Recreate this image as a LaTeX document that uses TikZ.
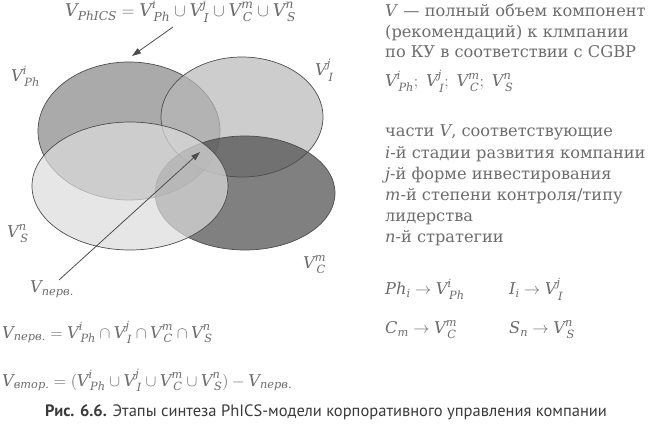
\RequirePackage{fix-cm}
\documentclass[tikz,border=0pt]{standalone}
\usepackage{amsmath}
\usepackage{fontspec}
\setmainfont{DejaVu Serif}
\newfontfamily\capfont{PT Sans}
\usetikzlibrary{arrows.meta}
\definecolor{txt}{HTML}{6c6c6c}
\definecolor{capc}{HTML}{3a3a3a}
\definecolor{edge}{HTML}{4d4d4d}
\definecolor{cPh}{HTML}{868686}
\definecolor{cI}{HTML}{b8b8b8}
\definecolor{cC}{HTML}{4a4a4a}
\definecolor{cS}{HTML}{dcdcdc}
\newcommand{\mi}[1]{\text{\itshape #1}}
\newcommand{\VV}[2]{\mi{V}^{\mi{#1}}_{\kern1.6pt\mi{#2}}}
\tikzset{
  lbl/.style={text=txt, inner sep=0pt, font=\fontsize{16.2}{21}\selectfont},
  big/.style={text=txt, inner sep=0pt, font=\fontsize{17.5}{21}\selectfont},
  caption/.style={text=capc, inner sep=0pt, font=\capfont\fontsize{16.5}{19}\selectfont},
  set/.style={draw=edge, line width=0.7pt, fill opacity=0.7},
  pointer/.style={draw=edge, line width=0.8pt, -{Triangle[length=9pt,width=6pt]}}
}
\begin{document}
\begin{tikzpicture}[x=1pt,y=-1pt]
\useasboundingbox (0,0) rectangle (650,427);
% sets
\path[set, fill=cPh] (129,131) ellipse [x radius=91pt, y radius=69pt];
\path[set, fill=cI] (242,117) ellipse [x radius=81pt, y radius=60pt];
\path[set, fill=cC] (245,193) ellipse [x radius=90pt, y radius=57pt];
\path[set, fill=cS] (130,186) ellipse [x radius=98pt, y radius=64pt];
% labels
\node[big, anchor=base west] (top) at (65,17) {$\mi{V}_{\mi{PhICS}} = \VV{i}{Ph}\cup\VV{j}{I}\cup\VV{m}{C}\cup\VV{n}{S}$};
\node[lbl, anchor=base west] (lPh) at (11,82) {$\VV{i}{Ph}$};
\node[lbl, anchor=base west] (lI) at (315,76) {$\VV{j}{I}$};
\node[lbl, anchor=base west] (lS) at (7,238) {$\VV{n}{S}$};
\node[lbl, anchor=base west] (lC) at (303,269) {$\VV{m}{C}$};
\node[lbl, anchor=base west] (lP) at (30,293) {$\mi{V}_{\mi{перв.}}$};
\coordinate (tipA) at (132,56);
\coordinate (startA) at (173,27);
\coordinate (startB) at (59,280);
\coordinate (tipB) at (200,152);
\draw[pointer] (startA) -- (tipA);
\draw[pointer] (startB) -- (tipB);
% bottom formulas
\node[lbl, anchor=base west] (f1) at (2,338) {$\mi{V}_{\mi{перв.}} = \VV{i}{Ph}\cap\VV{j}{I}\cap\VV{m}{C}\cap\VV{n}{S}$};
\node[lbl, anchor=base west] (f2) at (2,386) {$\mi{V}_{\mi{втор.}} = (\VV{i}{Ph}\cup\VV{j}{I}\cup\VV{m}{C}\cup\VV{n}{S}) - \mi{V}_{\mi{перв.}}$};
% right column
\node[lbl, anchor=base west] (r1) at (385,16.5) {\textit{V} — полный объем компонент};
\node[lbl, anchor=base west] (r2) at (385,37.2) {(рекомендаций) к клмпании};
\node[lbl, anchor=base west] (r3) at (385,57.9) {по КУ в соответствии с CGBP};
\node[lbl, anchor=base west] (r4) at (385,87) {$\VV{i}{Ph};\ \VV{j}{I};\ \VV{m}{C};\ \VV{n}{S}$};
\node[lbl, anchor=base west] (r5) at (385,137) {части \textit{V}, соответствующие};
\node[lbl, anchor=base west] (r6) at (385,158.1) {\textit{i}-й стадии развития компании};
\node[lbl, anchor=base west] (r7) at (385,179.2) {\textit{j}-й форме инвестирования};
\node[lbl, anchor=base west] (r8) at (385,200.3) {\textit{m}-й степени контроля/типу};
\node[lbl, anchor=base west] (r9) at (385,221.4) {лидерства};
\node[lbl, anchor=base west] (r10) at (385,242.5) {\textit{n}-й стратегии};
\node[lbl, anchor=base west] (m1) at (385,295) {$\mi{Ph}_{\mi{i}}\rightarrow\VV{i}{Ph}$};
\node[lbl, anchor=base west] (m2) at (509,295) {$\mi{I}_{\mi{i}}\rightarrow\VV{j}{I}$};
\node[lbl, anchor=base west] (m3) at (385,334) {$\mi{C}_{\mi{m}}\rightarrow\VV{m}{C}$};
\node[lbl, anchor=base west] (m4) at (509,334) {$\mi{S}_{\mi{n}}\rightarrow\VV{n}{S}$};
% caption
\node[caption, anchor=base west] (cap) at (45,416) {\textbf{Рис. 6.6.} Этапы синтеза PhICS-модели корпоративного управления компании};
\end{tikzpicture}
\end{document}
